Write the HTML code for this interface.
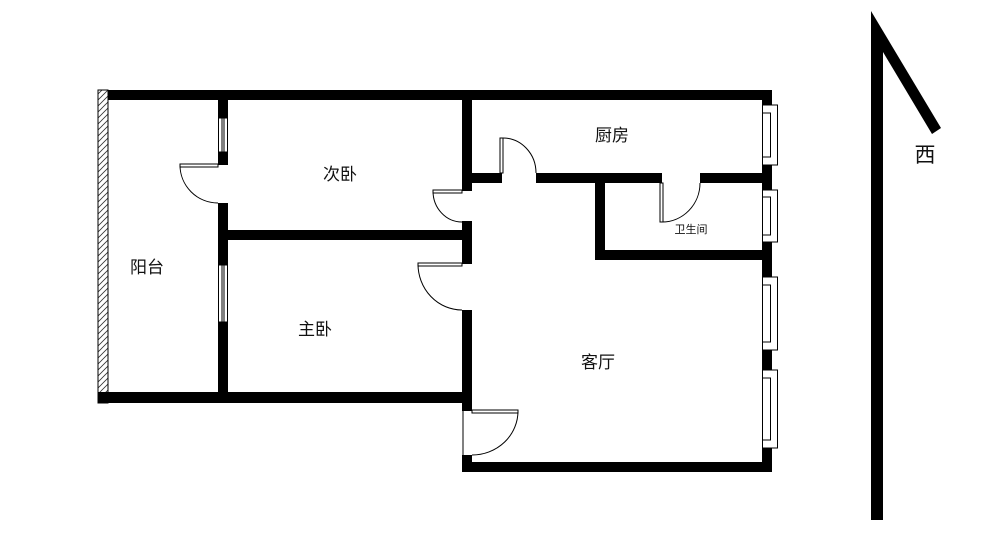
<!DOCTYPE html>
<html><head><meta charset="utf-8"><style>
html,body{margin:0;padding:0;background:#fff;}
svg{display:block;}
text{font-family:"Liberation Sans","Noto Sans CJK SC",sans-serif;fill:#111;}
</style></head><body>
<svg width="1000" height="541" viewBox="0 0 1000 541" xmlns="http://www.w3.org/2000/svg">
<defs>
<pattern id="h" width="6" height="6" patternUnits="userSpaceOnUse">
<rect width="6" height="6" fill="#fff"/>
<path d="M0,6 L6,0 M-1,1 L1,-1 M5,7 L7,5" stroke="#333" stroke-width="0.8"/>
</pattern>
</defs>
<g fill="#000">
<rect x="98" y="90" width="674" height="10"/>
<rect x="98" y="90" width="10" height="313" fill="url(#h)" stroke="#000" stroke-width="1"/>
<rect x="98" y="392" width="374" height="11"/>
<rect x="218" y="100" width="10" height="18"/>
<rect x="218" y="152" width="10" height="13"/>
<rect x="218" y="203" width="10" height="62"/>
<rect x="218" y="322" width="10" height="78"/>
<rect x="228" y="230" width="244" height="10"/>
<rect x="462" y="100" width="10" height="91"/>
<rect x="462" y="221" width="10" height="43"/>
<rect x="462" y="310" width="10" height="101"/>
<rect x="462" y="455" width="10" height="17"/>
<rect x="462" y="462" width="310" height="10"/>
<rect x="762" y="90" width="10" height="382"/>
<rect x="472" y="173" width="30" height="10"/>
<rect x="536" y="173" width="126" height="10"/>
<rect x="700" y="173" width="62" height="10"/>
<rect x="595" y="173" width="10" height="87"/>
<rect x="595" y="250" width="167" height="10"/>
<polygon points="871,11 941,128 932,134 883,52 883,520 871,520"/>
</g>
<g fill="#fff" stroke="#000" stroke-width="1">
<rect x="218.5" y="118" width="9" height="34"/>
<rect x="218.5" y="265" width="9" height="57"/>
</g>
<g stroke="#000" stroke-width="1">
<line x1="222" y1="118" x2="222" y2="152"/><line x1="224" y1="118" x2="224" y2="152"/>
<line x1="222" y1="265" x2="222" y2="322"/><line x1="224" y1="265" x2="224" y2="322"/>
</g>
<g fill="#fff" stroke="#000" stroke-width="1">
<rect x="762.5" y="105" width="15" height="60"/>
<rect x="762.5" y="190" width="15" height="52"/>
<rect x="762.5" y="277" width="15" height="73"/>
<rect x="762.5" y="370" width="15" height="78"/>
<rect x="762.5" y="113" width="8" height="44"/>
<rect x="762.5" y="197" width="8" height="38"/>
<rect x="762.5" y="285" width="8" height="57"/>
<rect x="762.5" y="378" width="8" height="62"/>
</g>
<g fill="none" stroke="#000" stroke-width="1">
<rect x="180" y="164" width="38" height="3" fill="#fff"/>
<path d="M180,165 A38,38 0 0,0 218,203"/>
<rect x="433" y="190" width="29" height="3" fill="#fff"/>
<path d="M433,191 A29,31 0 0,0 462,222"/>
<rect x="418" y="263" width="44" height="3" fill="#fff"/>
<path d="M418,264 A44,46 0 0,0 462,310"/>
<rect x="500" y="138" width="3" height="35" fill="#fff"/>
<path d="M503,138 A33,35 0 0,1 536,173"/>
<rect x="660" y="183" width="3" height="39" fill="#fff"/>
<path d="M662,222 A38,39 0 0,0 700,183"/>
<rect x="472" y="410" width="46" height="3" fill="#fff"/>
<path d="M518,411 A46,44 0 0,1 472,455"/>
<line x1="463" y1="411" x2="463" y2="455"/>
</g>
<text x="340" y="180" font-size="17" text-anchor="middle">次卧</text>
<text x="612" y="141" font-size="17" text-anchor="middle">厨房</text>
<text x="691" y="233" font-size="11" text-anchor="middle">卫生间</text>
<text x="147" y="273" font-size="17" text-anchor="middle">阳台</text>
<text x="315" y="335" font-size="17" text-anchor="middle">主卧</text>
<text x="598" y="368" font-size="17" text-anchor="middle">客厅</text>
<text x="925" y="162" font-size="21" text-anchor="middle">西</text>
</svg>
</body></html>
